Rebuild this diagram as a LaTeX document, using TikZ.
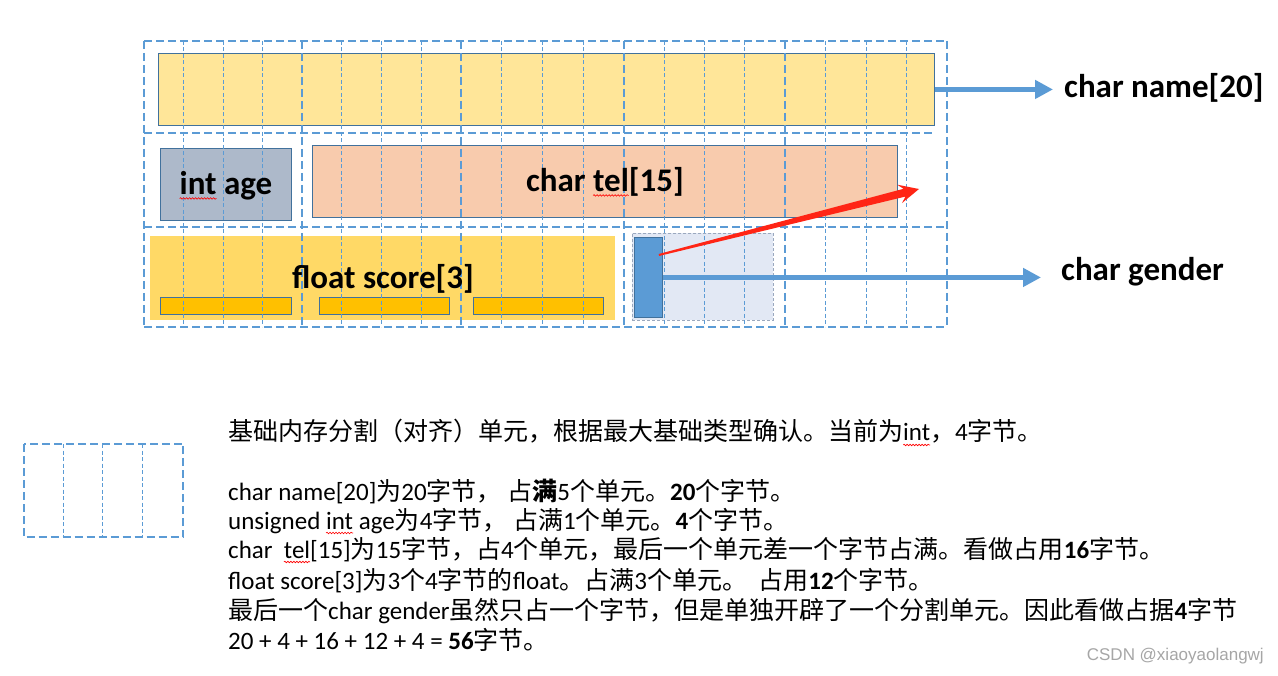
\documentclass[tikz,border=0pt]{standalone}
\usepackage{fontspec}
\setmainfont{Carlito}
\newfontfamily\cjk{Noto Sans CJK SC}
\newfontfamily\wmfont{Liberation Sans}
\usetikzlibrary{arrows.meta,calc,decorations.pathmorphing}
\newsavebox\wavebox
\newlength\wavelen
\newcommand\redwave[1]{\sbox\wavebox{#1}\setlength\wavelen{\wd\wavebox}\rlap{\tikz[overlay,baseline=0pt]\draw[red,line width=0.6pt,decorate,decoration={snake,amplitude=0.8pt,segment length=3pt}] (0pt,-4pt) -- (\wavelen,-4pt);}\usebox\wavebox}
\newcommand\zh[1]{{\cjk #1}}
\definecolor{gridblue}{HTML}{5B9BD5}
\definecolor{edgeblue}{HTML}{41719C}
\definecolor{nameyellow}{HTML}{FFE699}
\definecolor{telpeach}{HTML}{F8CBAD}
\definecolor{agegray}{HTML}{ADB9CA}
\definecolor{floatgold}{HTML}{FFD966}
\definecolor{subgold}{HTML}{FFC000}
\definecolor{lightlav}{HTML}{E2E8F4}
\definecolor{lavedge}{HTML}{9AA8BE}
\definecolor{arrowred}{HTML}{FF2515}
\definecolor{wmgray}{HTML}{A6A6A6}
\tikzset{
  box/.style={draw=edgeblue, line width=0.9pt, inner sep=0pt, anchor=north west},
  lbl/.style={font=\fontsize{33}{40}\selectfont\bfseries, text height=25pt, text depth=5pt},
  sidelbl/.style={font=\fontsize{33}{40}\selectfont\bfseries, inner sep=0pt, anchor=base west},
  thickdash/.style={draw=gridblue, line width=2pt, dash pattern=on 8pt off 4pt},
  thindash/.style={draw=gridblue, line width=0.9pt, dash pattern=on 4pt off 2.5pt},
  bluearrow/.style={draw=gridblue, line width=4.5pt, -{Triangle[length=18pt,width=18pt]}},
  bodytext/.style={font=\fontsize{25}{29}\selectfont, inner sep=0pt, anchor=base west}
}
\begin{document}
\begin{tikzpicture}[x=1pt,y=-1pt]
\useasboundingbox[fill=white] (0,0) rectangle (1278,676);
% boxes
\node[box, fill=nameyellow, minimum width=776pt, minimum height=72pt] (namebox) at (158,53) {};
\node[box, fill=agegray, minimum width=131pt, minimum height=72pt] (agebox) at (160,148) {};
\node[box, fill=telpeach, minimum width=585pt, minimum height=72pt] (telbox) at (312,145) {};
\node[box, draw=none, fill=floatgold, minimum width=465pt, minimum height=84pt] (floatbox) at (150,236) {};
\node[box, fill=subgold, minimum width=131pt, minimum height=17pt] (sub1) at (160,297) {};
\node[box, fill=subgold, minimum width=130pt, minimum height=17pt] (sub2) at (319,297) {};
\node[box, fill=subgold, minimum width=130pt, minimum height=17pt] (sub3) at (473,297) {};
\node[box, draw=lavedge, line width=0.7pt, dash pattern=on 3pt off 2pt, fill=lightlav, minimum width=141pt, minimum height=87pt] (glight) at (632,233) {};
\node[box, fill=gridblue, minimum width=28pt, minimum height=80pt] (gbox) at (634,237) {};
% grid
\foreach \a/\b in {144/302,302/461,461/624,624/785,785/947}{
  \foreach \k in {1,2,3}{
    \draw[thindash] ({\a+\k*(\b-\a)/4},41) -- ({\a+\k*(\b-\a)/4},327);
  }
}
\foreach \x in {144,302,461,624,785,947}{
  \draw[thickdash] (\x,41) -- (\x,327);
}
\draw[thickdash] (144,41) -- (947,41);
\draw[thickdash] (144,133) -- (933,133);
\draw[thickdash] (144,227) -- (947,227);
\draw[thickdash] (144,327) -- (947,327);
% labels in boxes
\node[lbl] (agelbl) at (agebox.center) {\redwave{int} age};
\node[lbl] (tellbl) at (telbox.center) {char \redwave{tel}[15]};
\node[lbl] (floatlbl) at (floatbox.center) {float score[3]};
% side labels
\node[sidelbl] (namelbl) at (1064,98) {char name[20]};
\node[sidelbl] (genderlbl) at (1061,281) {char gender};
\draw[bluearrow, shorten >=11pt] (namebox.east) -- (namebox.east -| namelbl.west);
\draw[bluearrow, shorten >=20pt] (gbox.east) -- (gbox.east -| genderlbl.west);
% red arrow
\coordinate (rs) at ($(gbox.north east)+(-4,18)$);
\coordinate (rt) at (919,189);
\coordinate (rb) at ($(rt)!15pt!(rs)$);
\coordinate (rbb) at ($(rt)!20pt!(rs)$);
\fill[arrowred] ($(rs)!1pt!90:(rt)$) -- ($(rb)!4pt!90:(rt)$) -- ($(rbb)!9.5pt!90:(rt)$) -- (rt)
  -- ($(rbb)!9.5pt!-90:(rt)$) -- ($(rb)!4pt!-90:(rt)$) -- ($(rs)!1pt!-90:(rt)$) -- cycle;
% legend unit
\node[inner sep=0pt, minimum width=159pt, minimum height=93pt, anchor=north west] (legend) at (24,444) {};
\draw[thickdash] (legend.north west) rectangle (legend.south east);
\foreach \x in {63,102,142}{
  \draw[thindash] (\x,444) -- (\x,537);
}
% explanation text
\node[bodytext] (t1) at (228,441) {\zh{基础内存分割（对齐）单元，根据最大基础类型确认。当前为}\redwave{int}\zh{，}4\zh{字节。}};
\node[bodytext] (t2) at (228,500) {char name[20]\zh{为}20\zh{字节，} \zh{占}\textbf{\zh{满}}5\zh{个单元。}\textbf{20}\zh{个字节。}};
\node[bodytext] (t3) at (228,529) {unsigned \redwave{int} age\zh{为}4\zh{字节，} \zh{占满}1\zh{个单元。}\textbf{4}\zh{个字节。}};
\node[bodytext] (t4) at (228,558) {char\ \ \redwave{tel}[15]\zh{为}15\zh{字节，占}4\zh{个单元，最后一个单元差一个字节占满。看做占用}\textbf{16}\zh{字节。}};
\node[bodytext] (t5) at (228,589) {float score[3]\zh{为}3\zh{个}4\zh{字节的}float\zh{。占满}3\zh{个单元。}\ \ \zh{占用}\textbf{12}\zh{个字节。}};
\node[bodytext] (t6) at (228,619) {\zh{最后一个}char gender\zh{虽然只占一个字节，但是单独开辟了一个分割单元。因此看做占据}\textbf{4}\zh{字节}};
\node[bodytext] (t7) at (228,649) {20 + 4 + 16 + 12 + 4 = \textbf{56}\zh{字节。}};
% watermark
\node[font=\wmfont\fontsize{17}{20}\selectfont, text=wmgray, anchor=base east, inner sep=0pt] (wm) at (1264,660) {CSDN @xiaoyaolangwj};
\end{tikzpicture}
\end{document}
